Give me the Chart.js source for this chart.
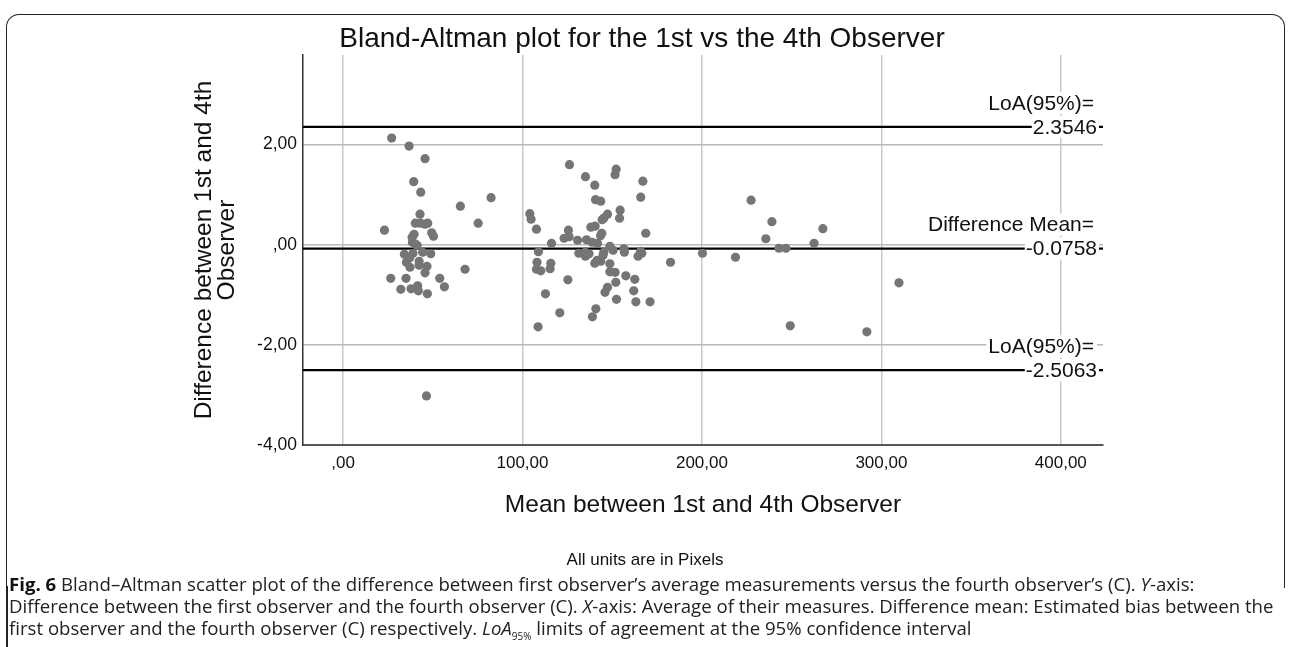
<!DOCTYPE html>
<html>
<head>
<meta charset="utf-8">
<script src="https://cdn.jsdelivr.net/npm/chart.js@4.4.0/dist/chart.umd.min.js"></script>
<style>
  html, body { margin:0; padding:0; background:#fff; width:1290px; height:647px; overflow:hidden; font-family:"Liberation Sans", Arial, sans-serif; }
  #frame { position:absolute; left:6px; top:14px; width:1279px; height:574px; border:1.5px solid #222; border-bottom:none; border-radius:13px 13px 0 0; box-sizing:border-box; }
  #leftline { position:absolute; left:6px; top:586px; width:1.5px; height:70px; background:#222; }
  #wrap { position:absolute; left:0; top:0; width:1290px; height:560px; }
  #units { position:absolute; left:0; width:1290px; top:550px; text-align:center; font-size:17px; line-height:20px; color:#111; }
  .cap { position:absolute; left:9px; font-family:"Open Sans", sans-serif; font-size:16px; line-height:22px; color:#222; white-space:nowrap; }
  .cap b { color:#111; }
  .cap sub { font-size:10px; line-height:0; }
</style>
</head>
<body>
<div id="frame"></div>
<div id="leftline"></div>
<div id="wrap"><canvas id="c" width="1290" height="560"></canvas></div>
<div id="units">All units are in Pixels</div>
<div class="cap" id="cap1" style="top:573px"><b>Fig. 6</b> Bland–Altman scatter plot of the difference between first observer’s average measurements versus the fourth observer’s (C). <i>Y</i>-axis:</div>
<div class="cap" id="cap2" style="top:595px">Difference between the first observer and the fourth observer (C). <i>X</i>-axis: Average of their measures. Difference mean: Estimated bias between the</div>
<div class="cap" id="cap3" style="top:617px">first observer and the fourth observer (C) respectively. <i>LoA</i><sub>95%</sub> limits of agreement at the 95% confidence interval</div>
<script>
// ---- data ----
const meanValues = [
  27.1,36.8,45.7,39.4,43.3,65.4,82.5,75.3,23.1,42.9,40.3,43.1,45.7,47.2,39.6,38.5,49.4,50.4,38.7,40.1,41.3,
  34.2,39.0,44.4,48.9,37.2,35.3,42.4,37.3,42.4,46.8,45.7,68.0,26.6,35.1,53.9,56.5,32.2,37.9,41.6,42.0,47.0,46.5,
  126.2,135.1,140.3,152.2,151.6,167.1,165.9,140.7,143.6,154.4,154.1,147.4,145.3,144.4,104.1,104.8,107.8,125.6,
  123.2,126.0,130.7,116.2,138.1,140.5,144.2,143.5,168.7,135.7,138.8,141.8,148.7,150.5,156.5,156.8,165.8,166.5,
  164.4,108.9,131.4,134.9,135.1,137.1,145.3,144.9,141.6,140.3,143.6,148.7,108.1,107.8,110.2,115.8,115.4,148.7,
  151.6,157.6,162.6,152.0,125.3,147.4,146.0,162.0,112.8,152.4,163.2,171.1,140.9,139.0,120.8,108.7,182.5,200.3,
  227.4,239.0,235.6,218.7,242.9,246.8,262.5,267.4,309.8,249.2,291.9
];
const diffValues = [
  2.13,1.97,1.72,1.26,1.05,0.77,0.94,0.43,0.29,0.61,0.43,0.43,0.41,0.43,0.21,0.15,0.24,0.17,0.05,0.02,-0.01,
  -0.19,-0.17,-0.15,-0.18,-0.26,-0.35,-0.33,-0.45,-0.41,-0.43,-0.56,-0.49,-0.67,-0.67,-0.67,-0.84,-0.89,-0.88,-0.82,-0.92,-0.98,-3.02,
  1.60,1.36,1.19,1.51,1.40,1.27,0.95,0.90,0.87,0.69,0.53,0.61,0.53,0.50,0.62,0.51,0.31,0.29,
  0.13,0.16,0.09,0.03,0.35,0.37,0.23,0.18,0.23,0.10,0.05,0.03,-0.03,-0.11,-0.08,-0.15,-0.13,-0.17,
  -0.23,-0.14,-0.17,-0.15,-0.23,-0.18,-0.15,-0.21,-0.31,-0.37,-0.33,-0.38,-0.35,-0.49,-0.52,-0.37,-0.48,-0.54,
  -0.55,-0.62,-0.69,-0.75,-0.70,-0.85,-0.95,-0.92,-0.98,-1.09,-1.14,-1.14,-1.28,-1.44,-1.36,-1.64,-0.35,-0.17,
  0.89,0.46,0.12,-0.25,-0.07,-0.07,0.03,0.32,-0.76,-1.62,-1.74
];
const refValues = [2.3546, -0.0758, -2.5063];
const refHeaders = ["LoA(95%)=", "Difference Mean=", "LoA(95%)="];
const refTexts = ["2.3546", "-0.0758", "-2.5063"];
const xTicks = [0, 100, 200, 300, 400];
const yTicks = [-4, -2, 0, 2];
const xRange = [-22.3, 423.5];
const yRange = [-4, 3.79];

const FONT = '"Liberation Sans", Arial, sans-serif';
function fmt(v) {
  let s = Number(v).toFixed(2).replace('.', ',');
  if (s.startsWith('0,')) s = s.slice(1);
  if (s.startsWith('-0,')) s = '-' + s.slice(2);
  return s;
}

const points = meanValues.map((x, i) => ({x: x, y: diffValues[i]}));
const refDatasets = refValues.map(v => ({
  type: 'line',
  data: [{x: xRange[0], y: v}, {x: xRange[1], y: v}],
  borderColor: '#000', borderWidth: 2.2, pointRadius: 0, fill: false, tension: 0
}));

const overlay = {
  id: 'overlay',
  afterDatasetsDraw(chart) {
    const {ctx, chartArea, scales} = chart;
    ctx.save();
    ctx.font = '21px ' + FONT;
    ctx.textBaseline = 'middle';
    refValues.forEach((v, i) => {
      const y = scales.y.getPixelForValue(v);
      const t = refTexts[i];
      const tw = ctx.measureText(t).width;
      const xr = chartArea.right - 6;
      ctx.fillStyle = '#fff';
      ctx.fillRect(xr - tw - 1, y - 11, tw + 3, 22);
      ctx.fillStyle = '#111';
      ctx.textAlign = 'right';
      ctx.fillText(t, xr, y + 1);
      const h = refHeaders[i];
      const hw = ctx.measureText(h).width;
      const hx = chartArea.right - 9;
      const hy = y - 24;
      ctx.fillStyle = '#fff';
      ctx.fillRect(hx - hw - 2, hy - 11, hw + 5, 22);
      ctx.fillStyle = '#111';
      ctx.fillText(h, hx, hy + 1);
    });
    ctx.restore();
  },
  afterDraw(chart) {
    const {ctx} = chart;
    ctx.save();
    ctx.font = '28px ' + FONT;
    ctx.fillStyle = '#111';
    ctx.textAlign = 'center';
    ctx.textBaseline = 'alphabetic';
    ctx.fillText('Bland-Altman plot for the 1st vs the 4th Observer', 642, 47);
    ctx.restore();
  }
};

new Chart(document.getElementById('c'), {
  type: 'scatter',
  data: {
    datasets: [
      { data: points, backgroundColor: '#757575', borderWidth: 0, pointRadius: 4.6, pointHoverRadius: 4.6 },
      ...refDatasets
    ]
  },
  options: {
    responsive: false,
    animation: false,
    devicePixelRatio: 1,
    layout: { padding: { left: 190, right: 187, top: 55, bottom: 0 } },
    plugins: { legend: { display: false }, tooltip: { enabled: false }, title: { display: false } },
    scales: {
      x: {
        type: 'linear', min: xRange[0], max: xRange[1],
        afterFit(s) { s.height = 115; },
        afterBuildTicks(s) { s.ticks = xTicks.map(v => ({value: v})); },
        grid: { color: '#c8c8c8', lineWidth: 1.5, drawTicks: false },
        border: { color: '#555', width: 2 },
        ticks: { color: '#111', font: { family: FONT, size: 17 }, padding: 8, callback: v => fmt(v), maxRotation: 0, autoSkip: false },
        title: { display: true, text: 'Mean between 1st and 4th Observer', color: '#111', font: { family: FONT, size: 24.5, lineHeight: 1.2 }, padding: { top: 0, bottom: 40 } }
      },
      y: {
        type: 'linear', min: yRange[0], max: yRange[1],
        afterFit(s) { s.width = 113; },
        afterBuildTicks(s) { s.ticks = yTicks.map(v => ({value: v})); },
        grid: { color: '#b8b8b8', lineWidth: 1.5, drawTicks: false },
        border: { color: '#333', width: 1.5 },
        ticks: { color: '#111', font: { family: FONT, size: 17.5 }, padding: 6, callback: v => fmt(v), autoSkip: false },
        title: { display: true, text: ['Difference between 1st and 4th', 'Observer'], color: '#111', font: { family: FONT, size: 24.5, lineHeight: 0.96 }, padding: { top: 2, bottom: 0 } }
      }
    }
  },
  plugins: [overlay]
});

// caption: size the type so the widest line ends just inside the frame
function fitCaption() {
  const caps = ['cap1', 'cap2', 'cap3'].map(id => document.getElementById(id));
  caps.forEach(el => { el.style.fontSize = '16px'; });
  const w = caps[1].getBoundingClientRect().width;
  if (!(w > 0)) return;
  const fs = 16 * 1266 / w;
  caps.forEach(el => { el.style.fontSize = fs.toFixed(2) + 'px'; });
}
fitCaption();
if (document.fonts && document.fonts.ready) document.fonts.ready.then(fitCaption);
</script>
</body>
</html>
